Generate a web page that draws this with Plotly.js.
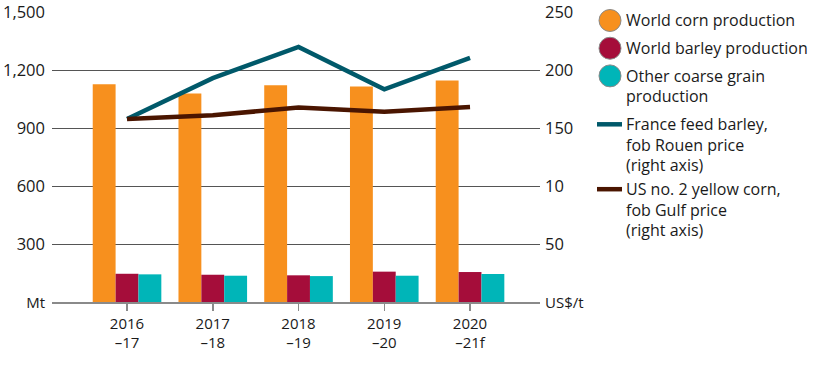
<!DOCTYPE html>
<html>
<head>
<meta charset="utf-8">
<script src="https://cdn.plot.ly/plotly-3.0.1.min.js"></script>
<style>html,body{margin:0;padding:0;background:#fff;}#chart{width:816px;height:366px;}</style>
</head>
<body>
<div id="chart"></div>
<script>
const categories = ["2016<br>–17", "2017<br>–18", "2018<br>–19", "2019<br>–20", "2020<br>–21f"];
const cornProduction = [1126, 1079, 1121, 1115, 1146];
const barleyProduction = [146, 141, 138, 157, 155];
const otherCoarseGrain = [143, 136, 134, 136, 145];
const franceBarleyPrice = [157.7, 193, 219.9, 183.4, 210.4];
const usCornPrice = [157.7, 161, 167.6, 164, 168.2];
const leftTickVals = [0, 300, 600, 900, 1200, 1500];
const leftTickText = ['<span style="font-size:15px">Mt</span>', '300', '600', '900', '1,200', '1,500'];
const rightTickVals = [0, 50, 100, 150, 200, 250];
const rightTickText = ['<span style="font-size:15px">US$/t</span>', '50', '10', '150', '200', '250'];

const C_CORN = '#F7901E', C_BARLEY = '#A50D3A', C_OTHER = '#00B5B8';
const C_FR = '#00596A', C_US = '#4A1500';
const FONT = 'Open Sans, sans-serif';

const L = 52, R = 540, T = 12, B = 302.5;
const px = v => (v - L) / (R - L);
const py = v => (B - v) / (B - T);

const traces = [
  {type: 'bar', x: categories, y: cornProduction, name: 'World corn production', marker: {color: C_CORN}, yaxis: 'y'},
  {type: 'bar', x: categories, y: barleyProduction, name: 'World barley production', marker: {color: C_BARLEY}, yaxis: 'y'},
  {type: 'bar', x: categories, y: otherCoarseGrain, name: 'Other coarse grain production', marker: {color: C_OTHER}, yaxis: 'y'},
  {type: 'scatter', mode: 'lines', x: categories, y: franceBarleyPrice, name: 'France feed barley', line: {color: C_FR, width: 4.5}, yaxis: 'y2'},
  {type: 'scatter', mode: 'lines', x: categories, y: usCornPrice, name: 'US corn', line: {color: C_US, width: 4.5}, yaxis: 'y2'}
];

const legendItems = [
  {kind: 'circle', color: C_CORN, y: 20.5, lines: ['World corn production']},
  {kind: 'circle', color: C_BARLEY, y: 48.3, lines: ['World barley production']},
  {kind: 'circle', color: C_OTHER, y: 76, lines: ['Other coarse grain', 'production']},
  {kind: 'line', color: C_FR, y: 124.5, lines: ['France feed barley,', 'fob Rouen price', '(right axis)']},
  {kind: 'line', color: C_US, y: 189.5, lines: ['US no. 2 yellow corn,', 'fob Gulf price', '(right axis)']}
];

const shapes = [];
const annotations = [];
legendItems.forEach(it => {
  if (it.kind === 'circle') {
    shapes.push({type: 'circle', xref: 'paper', yref: 'paper', xsizemode: 'pixel', ysizemode: 'pixel',
      xanchor: px(610), yanchor: py(it.y), x0: -11, x1: 11, y0: -11, y1: 11,
      fillcolor: it.color, line: {color: '#8a8a8a', width: 1}});
  } else {
    shapes.push({type: 'line', xref: 'paper', yref: 'paper', x0: px(597), x1: px(622), y0: py(it.y), y1: py(it.y),
      line: {color: it.color, width: 4.5}});
  }
  it.lines.forEach((t, i) => {
    annotations.push({xref: 'paper', yref: 'paper', x: px(624), y: py(it.y + i * 20.5), xanchor: 'left', yanchor: 'middle',
      text: t, showarrow: false, font: {family: FONT, size: 16, color: '#1a1a1a'}});
  });
});

const layout = {
  width: 816, height: 366,
  margin: {l: L, r: 816 - R, t: T, b: 366 - B},
  paper_bgcolor: '#fff', plot_bgcolor: '#fff',
  showlegend: false,
  barmode: 'group', bargap: 0.2, bargroupgap: 0,
  font: {family: FONT, color: '#1a1a1a'},
  xaxis: {type: 'category', range: [-0.875, 4.816], showgrid: false, showline: true, linecolor: '#8a8a8a', linewidth: 1.5,
    ticks: 'outside', ticklen: 7, tickcolor: '#8a8a8a', tickwidth: 1.5, tickfont: {family: FONT, size: 15, color: '#1a1a1a'}, fixedrange: true},
  yaxis: {range: [0, 1500], tickvals: leftTickVals, ticktext: leftTickText, showgrid: true, gridcolor: '#555', gridwidth: 1,
    zeroline: false, showline: false, ticks: '', ticklabelstandoff: 6, ticklabeloverflow: 'allow',
    tickfont: {family: FONT, size: 16.5, color: '#1a1a1a'}},
  yaxis2: {range: [0, 250], overlaying: 'y', side: 'right', tickvals: rightTickVals, ticktext: rightTickText, showgrid: false,
    zeroline: false, showline: false, ticks: '', ticklabelstandoff: 4, ticklabeloverflow: 'allow',
    tickfont: {family: FONT, size: 16.5, color: '#1a1a1a'}},
  shapes: shapes,
  annotations: annotations
};

Plotly.newPlot('chart', traces, layout, {staticPlot: true, displayModeBar: false});
</script>
</body>
</html>
